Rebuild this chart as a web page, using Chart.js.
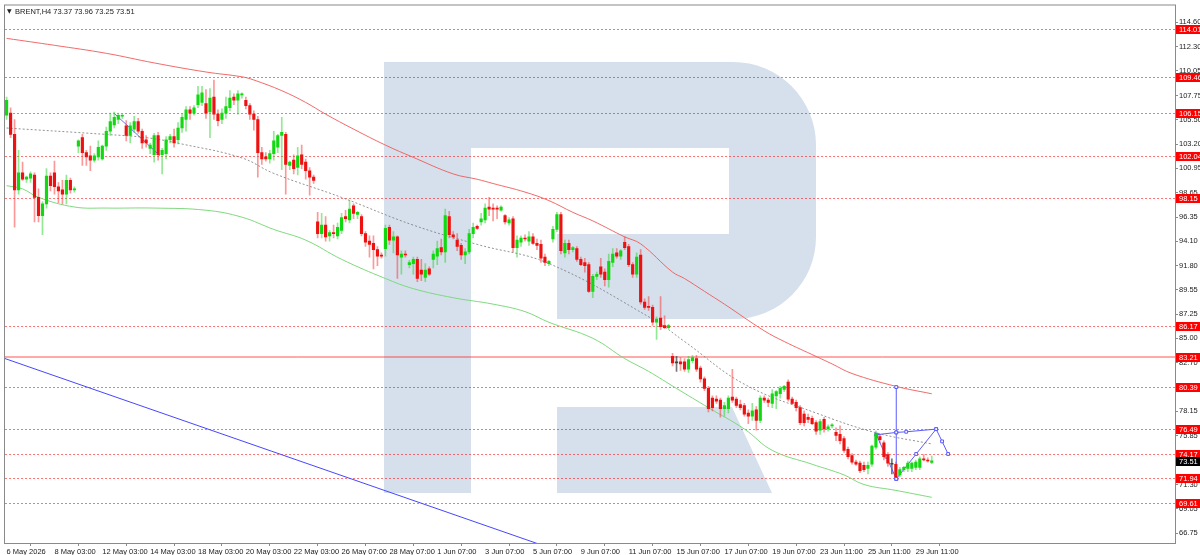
<!DOCTYPE html>
<html>
<head>
<meta charset="utf-8">
<title>BRENT H4</title>
<script src="https://cdn.jsdelivr.net/npm/chart.js@4.4.1/dist/chart.umd.min.js"></script>
<style>
  html, body { margin: 0; padding: 0; background: #fff; }
</style>
</head>
<body>
<canvas id="chart" width="1200" height="555"></canvas>
<script>
// BRENT H4 – свечи, скользящие средние, уровни и прогноз
const symbol = 'BRENT,H4';
const lastQuote = [73.37, 73.96, 73.25, 73.51];

// [open, high, low, close] по барам
const ohlc = [
  [105.9,107.6,105.5,107.3],[106.1,106.6,103.8,104.1],[104.1,105.5,95.4,98.9],[98.9,102.6,98.5,100.5],
  [100.5,101.5,99.8,99.9],[99.9,100.2,99.6,100.1],[100.0,100.6,99.6,100.4],[100.3,100.5,95.9,98.2],
  [98.2,99.0,95.9,96.5],[96.5,97.8,94.7,97.6],[97.6,100.9,97.2,100.2],[100.2,100.5,98.8,99.3],
  [100.5,101.6,98.5,99.2],[99.2,99.6,97.7,98.8],[98.9,99.8,97.6,98.5],[98.5,100.3,97.6,99.8],
  [99.8,100.0,98.6,98.9],[98.9,99.2,98.7,99.0],
  [103.0,103.6,102.4,103.5],[103.8,104.1,101.2,102.4],[102.4,102.6,101.2,102.0],[102.1,103.0,100.7,101.7],
  [101.7,102.3,101.5,102.1],[102.0,103.5,101.7,102.9],[101.8,103.1,101.7,103.0],[103.0,104.8,102.6,104.4],
  [104.4,106.1,104.0,105.3],[105.0,106.2,104.7,105.7],[105.5,106.1,105.1,105.9],[105.8,106.0,105.6,105.9],
  [104.9,105.4,103.5,104.0],[104.0,105.2,103.3,104.9],[104.6,105.8,104.3,105.3],[105.3,105.6,104.2,104.4],
  [104.4,104.6,102.8,103.3],[103.6,104.0,102.9,103.3],[102.8,103.3,102.3,103.1],[102.2,104.2,101.5,104.0],
  [104.0,104.3,101.7,102.2],[102.2,102.8,100.4,102.6],[102.3,103.9,101.8,103.6],[103.6,104.1,103.3,103.9],
  [103.9,104.6,102.9,103.3],[103.6,105.2,103.2,104.7],[104.7,106.0,104.3,105.7],[105.5,106.7,104.4,106.4],
  [106.4,106.7,105.5,106.1],[106.1,106.8,105.9,106.6],[106.9,108.6,106.6,107.8],[107.1,108.6,106.8,108.0],
  [107.0,108.3,105.6,106.1],[106.2,108.4,103.8,107.5],[107.6,109.2,105.5,106.0],[106.0,106.4,104.9,105.4],
  [105.5,106.5,105.1,106.1],[106.1,107.6,105.6,106.7],[106.6,108.2,106.3,107.5],[107.6,107.9,106.9,107.3],
  [107.3,108.2,106.0,107.9],[107.8,108.0,107.5,107.9],[107.3,107.6,106.5,106.8],[106.8,107.0,105.5,106.0],
  [106.0,106.3,104.5,105.5],[105.5,105.8,100.1,102.4],[102.4,102.9,101.3,101.8],[102.0,102.4,101.6,101.8],
  [101.8,102.6,101.4,102.3],[102.3,104.4,101.7,103.5],[102.9,104.1,102.4,104.0],[104.0,105.7,100.8,104.3],
  [104.1,104.3,98.5,101.3],[101.2,101.6,100.8,101.5],[101.7,102.2,100.4,100.9],[101.0,102.9,100.3,102.1],
  [102.2,103.1,100.9,101.3],[101.5,101.8,99.9,100.7],[100.7,101.0,98.4,100.1],[100.1,100.3,99.5,99.8],
  [95.9,96.8,94.4,94.8],[94.8,96.7,94.4,95.6],[95.6,96.4,94.1,94.5],[94.6,95.1,94.1,94.9],
  [94.9,95.6,94.4,94.8],[94.6,95.8,94.3,95.4],[95.1,96.7,94.8,96.3],[96.4,97.0,95.9,96.2],
  [96.1,97.9,95.8,97.1],[97.4,97.6,96.2,96.7],[96.6,96.9,96.2,96.8],[96.4,96.6,94.6,94.8],
  [94.8,95.0,93.6,94.0],[94.1,94.6,92.6,93.8],[93.9,94.6,91.5,93.3],[93.3,93.6,91.8,92.7],
  [92.8,93.0,92.5,92.7],[93.4,95.6,92.7,95.3],[95.4,95.6,93.8,94.2],[94.2,95.0,93.0,94.5],
  [94.5,94.6,90.6,92.8],[92.6,93.2,91.0,92.9],[92.9,93.2,92.6,92.8],[91.9,92.3,91.6,92.1],
  [92.0,92.6,91.0,92.4],[92.4,92.6,90.3,90.6],[91.4,92.4,90.4,91.0],[90.7,92.0,90.3,91.4],
  [91.5,91.7,90.9,91.0],[92.4,93.2,91.6,92.9],[92.7,94.1,91.9,93.4],[93.5,94.3,92.8,93.1],
  [93.1,97.1,92.1,96.5],[96.4,96.9,94.4,94.7],[94.7,95.0,94.3,94.5],[94.2,94.8,93.2,93.6],
  [93.7,93.9,92.4,92.8],[92.8,93.4,92.0,93.1],[93.1,95.2,92.9,94.8],[94.8,95.8,94.4,95.4],
  [95.5,95.6,95.2,95.3],[95.9,96.7,95.6,96.2],[96.1,97.6,95.8,97.2],[97.3,98.2,96.5,97.1],
  [97.2,97.6,96.0,97.1],[97.2,97.4,96.2,97.1],[97.0,97.4,96.9,97.3],[96.5,96.6,95.7,95.9],
  [95.8,96.3,95.6,96.1],[96.2,96.4,93.1,93.5],[93.5,94.6,92.6,94.2],[94.0,94.6,93.6,94.4],
  [94.4,94.7,94.1,94.3],[94.1,95.0,93.7,94.5],[94.5,94.8,93.8,93.9],[93.9,94.3,93.3,93.7],
  [93.8,94.2,92.1,92.5],[92.6,92.9,91.8,92.1],[92.0,92.3,91.8,92.2],[94.3,95.5,94.0,95.2],
  [95.2,96.8,95.0,96.6],[96.6,96.8,92.9,93.2],[93.0,94.2,92.6,93.9],[93.9,94.2,92.9,93.3],
  [93.3,93.6,93.1,93.5],[93.4,93.6,92.2,92.4],[92.4,92.6,91.8,91.9],[92.1,92.5,91.2,91.8],
  [91.9,92.1,89.3,89.4],[89.4,91.0,88.8,90.8],[90.8,91.2,90.5,91.0],[91.7,92.5,90.7,91.0],
  [91.2,91.5,89.9,90.5],[90.5,92.9,89.8,92.2],[92.1,93.4,91.7,92.9],[93.0,93.4,92.5,92.7],
  [92.7,93.3,92.4,93.2],[94.0,94.5,93.3,93.5],[93.6,93.8,91.7,91.9],[91.9,92.1,90.7,91.0],
  [91.0,93.0,90.7,92.6],[92.8,93.3,88.2,88.4],[88.4,88.7,87.7,87.9],[88.0,88.9,87.6,87.9],
  [87.9,88.1,86.2,86.5],[86.5,87.0,84.9,86.8],[86.9,88.9,85.8,86.1],[86.2,87.1,85.9,86.0],
  [86.0,86.3,85.9,86.2],
  [83.3,83.6,82.4,82.7],[82.7,83.3,81.9,82.7],[82.8,83.2,82.0,82.6],[82.8,83.1,81.9,82.1],
  [82.1,83.3,81.8,83.0],[82.9,83.4,82.7,83.2],[83.1,83.4,81.9,82.1],[82.2,82.4,80.9,81.2],
  [81.2,81.4,80.1,80.3],[80.3,80.5,78.1,78.4],[79.4,79.6,78.2,78.5],[79.3,79.6,78.9,79.1],
  [79.2,79.4,77.6,78.4],[78.4,79.0,77.7,78.7],[78.4,79.6,78.0,79.4],[79.5,82.1,79.0,79.2],
  [79.3,79.5,78.5,78.7],[78.8,79.2,78.3,78.5],[78.7,78.9,77.7,77.9],[78.0,78.3,77.0,77.7],
  [77.7,78.9,77.3,78.2],[78.3,78.6,76.4,77.3],[77.3,79.6,77.1,79.4],[79.4,79.6,79.0,79.2],
  [79.2,79.4,78.6,79.0],[78.9,80.2,78.5,79.8],[79.6,80.1,78.4,80.0],[79.8,80.5,79.4,80.3],
  [80.2,80.6,80.0,80.5],[80.9,81.1,79.1,79.3],[79.3,79.5,78.8,78.9],[79.0,79.2,78.2,78.5],
  [78.5,78.7,76.9,77.1],[77.9,78.2,76.8,77.1],[77.6,77.9,77.1,77.4],[77.5,77.7,76.9,77.0],
  [77.1,77.3,76.0,76.3],[76.4,77.4,76.0,77.2],[77.4,77.6,76.2,76.5],[76.5,76.9,76.3,76.7],
  [76.8,77.0,76.6,76.9],[76.2,76.6,75.4,75.9],[76.0,76.8,75.1,75.4],[75.6,75.8,74.3,74.5],
  [74.6,74.8,73.7,73.9],[74.0,74.2,73.2,73.4],[73.4,73.6,73.1,73.2],[73.3,73.5,72.4,72.6],
  [73.1,73.4,72.5,72.7],[72.8,73.4,72.3,73.1],[73.2,75.0,73.0,74.9],[74.8,76.3,74.6,76.0],
  [75.8,76.0,75.2,75.5],[75.2,75.4,73.6,73.9],[74.1,74.3,73.0,73.3],[73.2,73.7,72.3,73.2],
  [73.2,73.4,71.7,72.0],[72.2,72.9,72.0,72.7],[72.7,73.0,72.5,72.9],[72.8,73.5,72.5,73.3],
  [72.8,73.4,72.5,73.3],[72.9,73.6,72.7,73.4],[72.9,73.9,72.7,73.7],[73.7,74.1,73.5,73.6],
  [73.6,73.8,73.4,73.5],[73.37,73.96,73.25,73.51]
];

// подписи оси времени (номер бара -> текст)
const xTickBars = [0, 12, 24, 36, 48, 60, 72, 84, 96, 108, 120, 132, 144, 156, 168, 180, 192, 204, 216, 228];
const xTickLabels = ['6 May 2026', '8 May 03:00', '12 May 03:00', '14 May 03:00', '18 May 03:00',
  '20 May 03:00', '22 May 03:00', '26 May 07:00', '28 May 07:00', '1 Jun 07:00', '3 Jun 07:00',
  '5 Jun 07:00', '9 Jun 07:00', '11 Jun 07:00', '15 Jun 07:00', '17 Jun 07:00', '19 Jun 07:00',
  '23 Jun 11:00', '25 Jun 11:00', '29 Jun 11:00'];

// шкала цены
const yTicks = [114.60, 112.30, 110.05, 107.75, 105.50, 103.20, 100.95, 98.65, 96.35, 94.10, 91.80,
  89.55, 87.25, 85.00, 82.70, 80.40, 78.15, 75.85, 73.55, 71.30, 69.05, 66.75];

// горизонтальные уровни
const levels = [114.01, 109.46, 106.15, 102.04, 98.15, 86.17, 80.39, 76.49, 74.17, 71.94, 69.61];
const keyLevel = 83.21;

// скользящие средние [бар, цена]
const maRed = [[0,113.1],[12,112.45],[25,111.7],[37,110.8],[50,109.95],[59,109.5],[62,109.2],[69,108.2],
  [75,107.1],[80,106.0],[87,104.6],[95,103.1],[102,101.95],[112,100.4],[118,99.9],[122,99.5],[130,98.7],
  [136,97.9],[142,96.8],[147,96.0],[155,94.5],[159,93.85],[167,91.2],[170,90.6],[175,89.4],[180,88.2],
  [190,85.7],[195,84.7],[203,83.3],[207,82.6],[212,81.7],[223,80.5],[232,79.8]];
const maGreen = [[0,99.3],[4,99.0],[8,98.2],[17,97.3],[25,97.2],[37,97.2],[50,97.0],[59,96.35],[67,95.2],
  [75,94.2],[84,92.4],[95,90.6],[102,89.65],[112,88.8],[122,88.2],[130,87.5],[136,86.5],[147,85.0],
  [155,83.1],[161,81.9],[168,80.3],[176,78.5],[185,76.5],[192,74.5],[202,73.2],[210,72.2],[215,71.3],
  [223,70.75],[232,70.1]];
const maTrend = [[0,104.7],[25,104.1],[35,103.8],[44,103.2],[59,101.9],[67,100.45],[84,98.2],[102,95.6],
  [118,93.8],[136,92.0],[162,86.8],[170,84.7],[185,80.7],[203,78.0],[218,76.15],[232,75.1]];

// линии синего цвета
const blueLong = [[-0.4,83.1],[134.4,65.6]];
const blueShort = [[26.9,106.1],[38.5,102.1]];
const fcA = [[218.1,75.96],[220.6,73.91],[223.1,71.83]];
const fcB = [[223.1,71.83],[223.1,76.18],[223.1,80.43]];
const fcC = [[218.1,75.96],[223.1,76.18],[225.6,76.24],[233.1,76.49]];
const fcD = [[223.1,71.83],[228.1,74.16],[233.1,76.49],[234.6,75.34],[236.1,74.16]];

const FONT = 'Liberation Sans';
Chart.defaults.font.family = FONT;

function toXY(arr) {
  return arr.map(p => ({ x: p[0], y: p[1] }));
}

function bodyColor(d) {
  if (d[3] > d[0]) return '#12d812';
  if (d[3] < d[0]) return '#ee1111';
  return '#444444';
}

function wickColor(d) {
  if (d[3] > d[0]) return 'rgba(40,210,40,0.5)';
  if (d[3] < d[0]) return 'rgba(250,50,50,0.5)';
  return 'rgba(60,60,60,0.7)';
}

function lineSet(arr, color, extra) {
  return Object.assign({
    type: 'line',
    data: toXY(arr),
    borderColor: color,
    borderWidth: 1,
    pointRadius: 0,
    fill: false,
    order: 3
  }, extra || {});
}

function forecastSet(arr) {
  return lineSet(arr, '#5b5bff', {
    pointRadius: 2,
    pointStyle: 'rect',
    pointBorderColor: '#5b5bff',
    pointBackgroundColor: '#ffffff',
    pointBorderWidth: 1,
    order: 1
  });
}

// фон: логотип R и уровни
const watermarkPlugin = {
  id: 'watermark',
  beforeDatasetsDraw(chart) {
    const ctx = chart.ctx;
    ctx.save();
    ctx.fillStyle = 'rgb(213,224,236)';
    ctx.fillRect(384, 62, 87, 431);
    ctx.beginPath();
    ctx.moveTo(471, 62);
    ctx.lineTo(733, 62);
    ctx.arcTo(816, 62, 816, 145, 83);
    ctx.lineTo(816, 237);
    ctx.arcTo(816, 319, 733, 319, 82);
    ctx.lineTo(557, 319);
    ctx.lineTo(557, 234);
    ctx.lineTo(729, 234);
    ctx.lineTo(729, 148);
    ctx.lineTo(471, 148);
    ctx.closePath();
    ctx.fill();
    ctx.beginPath();
    ctx.moveTo(557, 407);
    ctx.lineTo(732, 407);
    ctx.lineTo(772, 493);
    ctx.lineTo(557, 493);
    ctx.closePath();
    ctx.fill();

    const ya = chart.scales.y;
    const area = chart.chartArea;
    ctx.lineWidth = 1;
    ctx.setLineDash([2, 2]);
    ctx.strokeStyle = 'rgba(255,0,0,0.55)';
    levels.forEach(v => {
      const py = Math.round(ya.getPixelForValue(v)) + 0.5;
      ctx.beginPath();
      ctx.moveTo(area.left, py);
      ctx.lineTo(area.right, py);
      ctx.stroke();
    });
    ctx.setLineDash([]);
    ctx.strokeStyle = 'rgba(255,40,40,0.8)';
    const pk = Math.round(ya.getPixelForValue(keyLevel));
    ctx.beginPath();
    ctx.moveTo(area.left, pk);
    ctx.lineTo(area.right, pk);
    ctx.stroke();
    ctx.restore();
  },
  afterDraw(chart) {
    const ctx = chart.ctx;
    const ya = chart.scales.y;
    const area = chart.chartArea;
    ctx.save();
    ctx.strokeStyle = '#8a8a8a';
    ctx.lineWidth = 1;
    ctx.strokeRect(area.left - 0.5, area.top - 0.5, area.right - area.left + 1, area.bottom - area.top + 1);

    // метки уровней на шкале
    ctx.font = '7.5px ' + FONT;
    ctx.textBaseline = 'middle';
    ctx.textAlign = 'left';
    levels.concat([keyLevel]).forEach(v => {
      const py = Math.round(ya.getPixelForValue(v));
      ctx.fillStyle = '#ff0000';
      ctx.fillRect(area.right + 1, py - 4, 24, 9);
      ctx.fillStyle = '#ffffff';
      ctx.fillText(v.toFixed(2), area.right + 4, py + 0.5);
    });
    const last = lastQuote[3];
    const pl = Math.round(ya.getPixelForValue(last));
    ctx.fillStyle = '#000000';
    ctx.fillRect(area.right + 1, pl - 4, 24, 9);
    ctx.fillStyle = '#ffffff';
    ctx.fillText(last.toFixed(2), area.right + 4, pl + 0.5);

    // заголовок
    ctx.fillStyle = '#222222';
    ctx.font = '6px DejaVu Sans';
    ctx.fillText('\u25BC', area.left + 2, area.top + 6);
    ctx.font = '7.5px ' + FONT;
    ctx.fillText(symbol + ' ' + lastQuote.map(v => v.toFixed(2)).join(' '), area.left + 10, area.top + 6);
    ctx.restore();
  }
};

const ctx = document.getElementById('chart').getContext('2d');
const chart = new Chart(ctx, {
  type: 'bar',
  data: {
    datasets: [
      {
        type: 'bar',
        data: ohlc.map((d, i) => ({ x: i, y: [d[0], d[3]] })),
        backgroundColor: c => bodyColor(ohlc[c.dataIndex]),
        barThickness: 2.5,
        minBarLength: 1,
        grouped: false,
        borderWidth: 0,
        order: 0
      },
      {
        type: 'bar',
        data: ohlc.map((d, i) => ({ x: i, y: [d[2], d[1]] })),
        backgroundColor: c => wickColor(ohlc[c.dataIndex]),
        barThickness: 1,
        grouped: false,
        borderWidth: 0,
        order: 2
      },
      lineSet(maRed, 'rgba(240,90,90,0.9)', { tension: 0.4 }),
      lineSet(maGreen, 'rgba(120,215,120,0.95)', { tension: 0.4 }),
      lineSet(maTrend, 'rgba(120,120,120,0.8)', { tension: 0.4, borderDash: [2, 2] }),
      lineSet(blueLong, '#4646ff'),
      lineSet(blueShort, '#6a6aff'),
      forecastSet(fcA),
      forecastSet(fcB),
      forecastSet(fcC),
      forecastSet(fcD)
    ]
  },
  options: {
    responsive: false,
    animation: false,
    events: [],
    layout: { padding: { left: 1, top: 2, right: 0, bottom: 0 } },
    plugins: {
      legend: { display: false },
      tooltip: { enabled: false }
    },
    scales: {
      x: {
        type: 'linear',
        min: -0.4,
        max: 293,
        offset: false,
        grid: { drawOnChartArea: false, drawTicks: true, tickLength: 3, color: '#8a8a8a' },
        border: { color: '#8a8a8a' },
        afterBuildTicks: s => { s.ticks = xTickBars.map(v => ({ value: v })); },
        afterFit: s => { s.height = 12; },
        ticks: {
          autoSkip: false,
          maxRotation: 0,
          align: 'start',
          padding: 1,
          color: '#222',
          font: { size: 7.5 },
          callback: v => {
            const k = xTickBars.indexOf(v);
            return k >= 0 ? xTickLabels[k] : '';
          }
        }
      },
      y: {
        position: 'right',
        min: 65.82,
        max: 116.18,
        grid: { drawOnChartArea: false, drawTicks: true, tickLength: 3, color: '#8a8a8a' },
        border: { color: '#8a8a8a' },
        afterBuildTicks: s => { s.ticks = yTicks.map(v => ({ value: v })); },
        afterFit: s => { s.width = 25; },
        ticks: {
          padding: 1,
          color: '#222',
          font: { size: 7.5 },
          callback: v => v.toFixed(2)
        }
      }
    }
  },
  plugins: [watermarkPlugin]
});
</script>
</body>
</html>
